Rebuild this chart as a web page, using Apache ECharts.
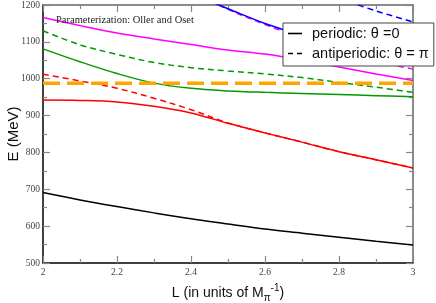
<!DOCTYPE html>
<html>
<head>
<meta charset="utf-8">
<script src="https://cdn.jsdelivr.net/npm/echarts@6/dist/echarts.min.js"></script>
<style>html,body{margin:0;padding:0;background:#fff}#c{width:436px;height:303px}</style>
</head>
<body>
<div id="c"></div>
<script>
// L values (units of 1/M_pi)
var L = [2.0, 2.1, 2.2, 2.3, 2.4, 2.5, 2.6, 2.7, 2.8, 2.9, 3.0];
var L_upper = [2.45, 2.5, 2.6, 2.7, 2.8, 2.9, 3.0];
var L_blueDash = [2.8, 2.9, 3.0];
var L_threshold = [2.0, 3.0];

// Energy levels (MeV)
var blackPeriodic   = [691, 671, 653, 636, 620, 606, 592, 581, 570, 559, 549];
var redPeriodic     = [942, 941, 937, 925, 907, 879, 853, 828, 802, 780, 758];
var redAnti         = [1012, 994, 974, 947, 916, 880, 853, 828, 802, 780, 758];
var greenPeriodic   = [1081, 1046, 1014, 988, 974, 967, 963, 960, 957, 954, 951];
var greenAnti       = [1130, 1092, 1066, 1044, 1030, 1021, 1013, 1003, 990, 977, 963];
var magentaPeriodic = [1166, 1144, 1124, 1108, 1093, 1078, 1067, 1051, 1032, 1013, 995];
var magentaAnti     = [1213, 1188, 1147, 1110, 1077, 1048, 1026];
var bluePeriodic    = [1210, 1190, 1150, 1118, 1095, 1078, 1066];
var blueAnti        = [1218, 1184, 1154];
var threshold2K     = [987.4, 987.4];

var xTicks = { min: 2, max: 3, interval: 0.2 };
var yTicks = { min: 500, max: 1200, interval: 100 };

var legendNames = ['periodic: \u03b8 =0', 'antiperiodic: \u03b8 = \u03c0'];
var noteText = 'Parameterization: Oller and Oset';

function pairs(xs, ys) { return xs.map(function (x, i) { return [x, ys[i]]; }); }

function curve(name, xs, ys, color, dashed, width) {
  return {
    name: name, type: 'line', data: pairs(xs, ys), symbol: 'none', smooth: 0.35,
    silent: true, animation: false, clip: true,
    lineStyle: { color: color, width: width || 1.5, type: dashed ? [6, 4] : 'solid' },
    itemStyle: { color: color }
  };
}

var chart = echarts.init(document.getElementById('c'), null, { renderer: 'canvas' });

var serifLbl = { fontFamily: 'Liberation Serif', fontSize: 9.5, color: '#444' };
var tickStyle = { inside: true, length: 7, lineStyle: { color: '#888', width: 1.2 } };
var minorStyle = { show: true, splitNumber: 2, length: 4, lineStyle: { color: '#888', width: 1.2 } };

chart.setOption({
  animation: false,
  backgroundColor: '#fff',
  title: {
    text: noteText, left: 56, top: 15, padding: 0,
    textStyle: { fontFamily: 'Liberation Serif', fontSize: 10.5, fontWeight: 'normal', color: '#222' }
  },
  grid: { left: 43, right: 23, top: 5, bottom: 40, containLabel: false, outerBoundsMode: 'none' },
  legend: {
    data: [
      { name: legendNames[0], icon: 'path://M0,0h14v1.6h-14z' },
      { name: legendNames[1], icon: 'path://M0,0h5v1.6h-5z M9,0h5v1.6h-5z' }
    ],
    orient: 'vertical', left: 283, top: 23,
    backgroundColor: '#fff', borderColor: '#444', borderWidth: 1, borderRadius: 0,
    padding: [3, 5, 5, 5], itemWidth: 14, itemHeight: 14, itemGap: 5,
    itemStyle: { color: '#000' },
    textStyle: { fontFamily: 'Liberation Sans', fontSize: 14.5, color: '#111', padding: [0, 0, 0, 5] },
    selectedMode: false
  },
  xAxis: [{
    type: 'value', min: xTicks.min, max: xTicks.max, interval: xTicks.interval,
    position: 'bottom',
    name: 'L (in units of M{sub|\u03c0}{sup|-1})', nameLocation: 'middle', nameGap: 20,
    nameTextStyle: {
      fontFamily: 'Liberation Sans', fontSize: 14, color: '#111',
      rich: {
        sub: { fontFamily: 'Liberation Sans', fontSize: 10, verticalAlign: 'bottom', padding: [10, 0, 0, 0] },
        sup: { fontFamily: 'Liberation Sans', fontSize: 10, verticalAlign: 'top', padding: [0, 0, 10, 0] }
      }
    },
    axisLine: { show: true, onZero: false, lineStyle: { color: '#000', width: 1.5 } },
    axisTick: tickStyle, minorTick: minorStyle,
    axisLabel: Object.assign({ margin: 4, formatter: function (v) { return String(+v.toFixed(1)); } }, serifLbl),
    splitLine: { show: false }
  }, {
    type: 'value', min: xTicks.min, max: xTicks.max, interval: xTicks.interval,
    position: 'top',
    axisLine: { show: true, onZero: false, lineStyle: { color: '#666', width: 1.5 } },
    axisTick: tickStyle, minorTick: minorStyle,
    axisLabel: { show: false }, splitLine: { show: false }
  }],
  yAxis: [{
    type: 'value', min: yTicks.min, max: yTicks.max, interval: yTicks.interval,
    position: 'left',
    name: 'E (MeV)', nameLocation: 'middle', nameGap: 22, nameRotate: 90, nameMoveOverlap: false,
    nameTextStyle: { fontFamily: 'Liberation Sans', fontSize: 15, color: '#111' },
    axisLine: { show: true, onZero: false, lineStyle: { color: '#000', width: 1.5 } },
    axisTick: tickStyle, minorTick: minorStyle,
    axisLabel: Object.assign({ margin: 3, formatter: function (v) { return String(v); } }, serifLbl),
    splitLine: { show: false }
  }, {
    type: 'value', min: yTicks.min, max: yTicks.max, interval: yTicks.interval,
    position: 'right',
    axisLine: { show: true, onZero: false, lineStyle: { color: '#666', width: 1.5 } },
    axisTick: tickStyle, minorTick: minorStyle,
    axisLabel: { show: false }, splitLine: { show: false }
  }],
  series: [
    curve('black', L, blackPeriodic, '#000', false),
    curve('red-p', L, redPeriodic, '#ff0000', false),
    curve('red-a', L, redAnti, '#ff0000', true),
    curve('green-p', L, greenPeriodic, '#009a00', false),
    curve('green-a', L, greenAnti, '#009a00', true),
    curve('mag-p', L, magentaPeriodic, '#ff00ff', false),
    curve('mag-a', L_upper, magentaAnti, '#ff00ff', true),
    curve('blue-p', L_upper, bluePeriodic, '#0000ff', false),
    curve('blue-a', L_blueDash, blueAnti, '#0000ff', true),
    (function () {
      var s = curve('2K', L_threshold, threshold2K, '#ffa500', false, 3.5);
      s.lineStyle.type = [17, 7]; s.smooth = false; return s;
    })(),
    { name: legendNames[0], type: 'line', data: [], symbol: 'none', lineStyle: { color: '#000', width: 1.5 }, itemStyle: { color: '#000' } },
    { name: legendNames[1], type: 'line', data: [], symbol: 'none', lineStyle: { color: '#000', width: 1.5, type: [5, 3] }, itemStyle: { color: '#000' } }
  ]
});
</script>
</body>
</html>
